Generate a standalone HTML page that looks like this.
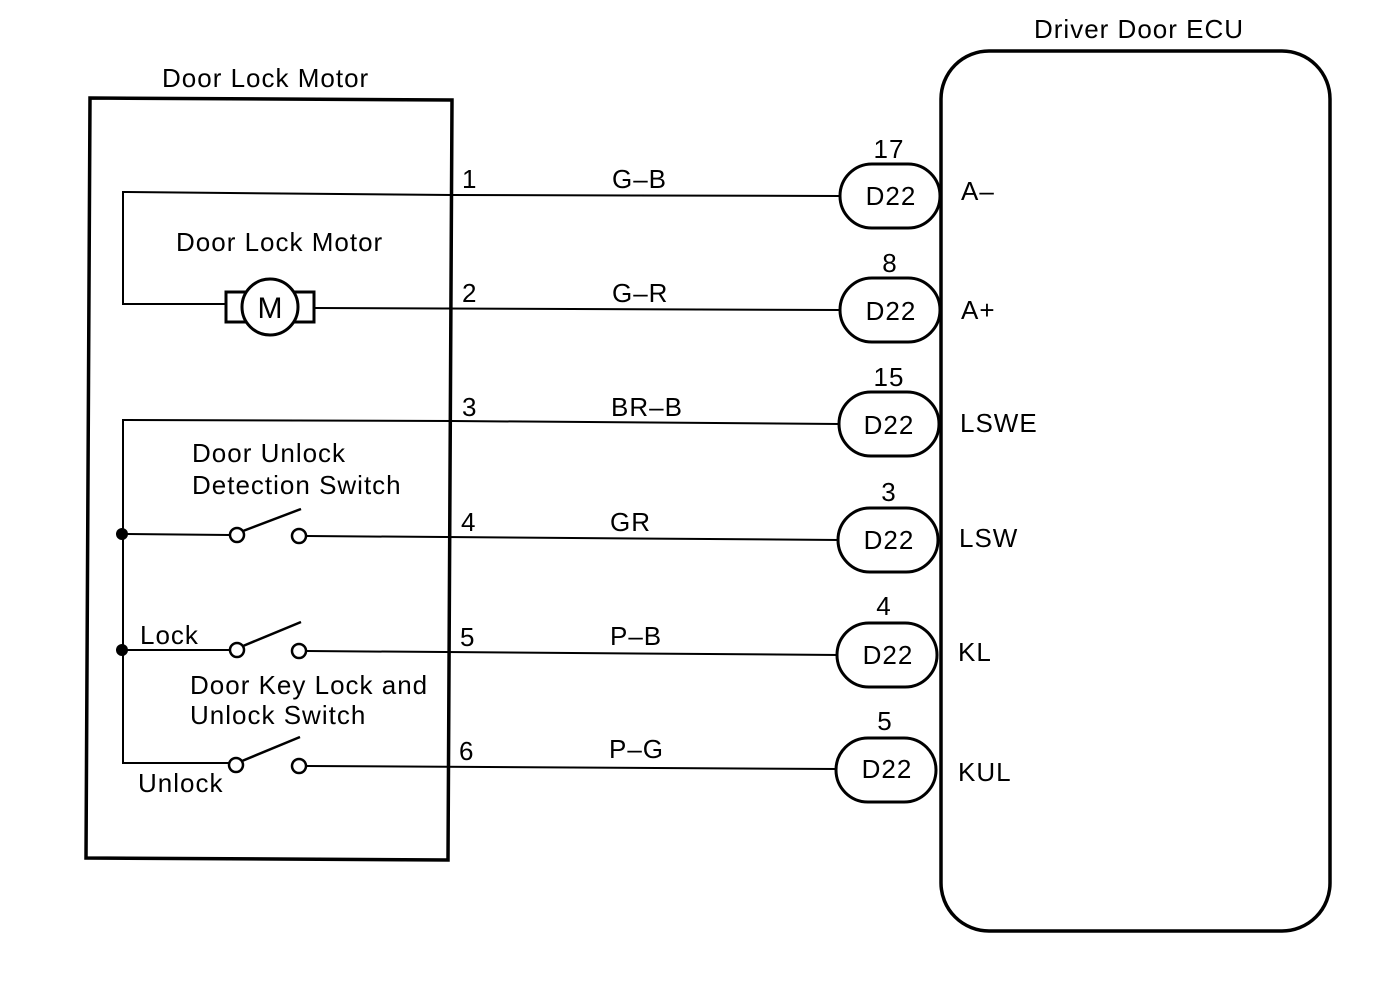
<!DOCTYPE html>
<html><head><style>body{margin:0;background:#fff}svg{display:block}text{font-family:"Liberation Sans",sans-serif;fill:#000}</style></head>
<body>
<svg width="1392" height="992" viewBox="0 0 1392 992" xmlns="http://www.w3.org/2000/svg">
<g stroke="#000" fill="none" stroke-width="2">
<path d="M90 98 L452 100 L448 860 L86 858 Z" stroke-width="3.5"/>
<rect x="941" y="51" width="389" height="880" rx="48" stroke-width="3.5"/>
<polyline points="452,195 123,192 123,304 225,304"/>
<rect x="226" y="292" width="88" height="30" fill="#fff" stroke-width="3"/>
<circle cx="270" cy="307" r="28" fill="#fff" stroke-width="3"/>
<line x1="315" y1="308" x2="840" y2="310"/>
<line x1="452" y1="195" x2="840" y2="196"/>
<polyline points="452,421 123,420 123,763 230,763"/>
<line x1="123" y1="534" x2="230" y2="535"/>
<line x1="123" y1="650" x2="230" y2="650"/>
<line x1="307" y1="536" x2="840" y2="540"/>
<line x1="307" y1="651" x2="840" y2="655"/>
<line x1="307" y1="766" x2="838" y2="769"/>
<line x1="452" y1="421" x2="840" y2="424"/>
<g stroke-width="2.5">
<circle cx="237" cy="535" r="7"/><circle cx="299" cy="536" r="7"/><line x1="243" y1="531" x2="301" y2="509"/>
<circle cx="237" cy="650" r="7"/><circle cx="299" cy="651" r="7"/><line x1="243" y1="646" x2="301" y2="622"/>
<circle cx="236" cy="765" r="7"/><circle cx="299" cy="766" r="7"/><line x1="242" y1="761" x2="300" y2="737"/>
</g>
<g stroke-width="3" fill="#fff">
<rect x="840" y="164" width="100" height="64" rx="32"/>
<rect x="840" y="278" width="100" height="64" rx="32"/>
<rect x="839" y="392" width="100" height="64" rx="32"/>
<rect x="838" y="508" width="100" height="64" rx="32"/>
<rect x="837" y="623" width="100" height="64" rx="32"/>
<rect x="836" y="738" width="100" height="64" rx="32"/>
</g>
</g>
<circle cx="122" cy="534" r="6"/><circle cx="122" cy="650" r="6"/>
<text x="270" y="318" font-size="30" text-anchor="middle">M</text>
<g font-size="26" letter-spacing="1">
<text x="162" y="87">Door Lock Motor</text>
<text x="1034" y="38">Driver Door ECU</text>
<text x="176" y="251">Door Lock Motor</text>
<text x="192" y="462">Door Unlock</text>
<text x="192" y="494">Detection Switch</text>
<text x="140" y="644">Lock</text>
<text x="190" y="694">Door Key Lock and</text>
<text x="190" y="724">Unlock Switch</text>
<text x="138" y="792">Unlock</text>
<text x="462" y="188">1</text><text x="462" y="302">2</text><text x="462" y="416">3</text>
<text x="461" y="531">4</text><text x="460" y="646">5</text><text x="459" y="760">6</text>
<text x="612" y="188">G–B</text><text x="612" y="302">G–R</text><text x="611" y="416">BR–B</text>
<text x="610" y="531">GR</text><text x="610" y="645">P–B</text><text x="609" y="758">P–G</text>
<text x="889" y="158" text-anchor="middle">17</text><text x="890" y="272" text-anchor="middle">8</text>
<text x="889" y="386" text-anchor="middle">15</text><text x="889" y="501" text-anchor="middle">3</text>
<text x="884" y="615" text-anchor="middle">4</text><text x="885" y="730" text-anchor="middle">5</text>
<text x="891" y="205" text-anchor="middle">D22</text><text x="891" y="320" text-anchor="middle">D22</text>
<text x="889" y="434" text-anchor="middle">D22</text><text x="889" y="549" text-anchor="middle">D22</text>
<text x="888" y="664" text-anchor="middle">D22</text><text x="887" y="778" text-anchor="middle">D22</text>
<text x="961" y="200">A–</text><text x="961" y="319">A+</text><text x="960" y="432">LSWE</text>
<text x="959" y="547">LSW</text><text x="958" y="661">KL</text><text x="958" y="781">KUL</text>
</g>
</svg>
</body></html>
